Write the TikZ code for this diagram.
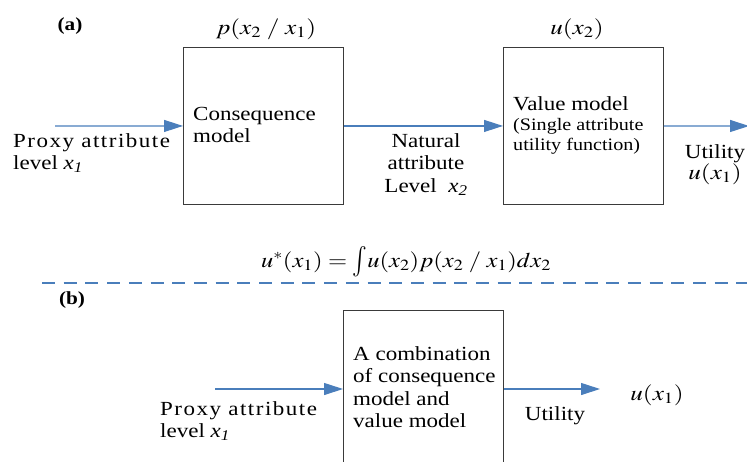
\documentclass[tikz,border=0pt]{standalone}
\usepackage{mathptmx}
\usepackage{graphicx}
\usepackage[no-math]{fontspec}
\setmainfont{Liberation Serif}[FakeStretch=1.15]
\usetikzlibrary{arrows.meta}
\definecolor{arrowblue}{HTML}{4A7EBB}
\definecolor{boxgray}{HTML}{3A3A3A}
\newcommand{\wmath}[1]{\scalebox{1.2}[1]{$#1$}}
\begin{document}
\begin{tikzpicture}[x=1pt,y=-1pt,
  box/.style={draw=boxgray,line width=0.9pt,minimum width=160pt,anchor=north west,inner sep=0pt},
  flow/.style={draw=arrowblue,line width=1.1pt,-{Triangle[length=19pt,width=12pt]}},
  txt/.style={inner sep=0pt,align=left,anchor=north west,font=\fontsize{20}{22.5}\selectfont},
  ctxt/.style={inner sep=0pt,align=center,anchor=north,font=\fontsize{20}{22.5}\selectfont},
  mth/.style={inner sep=0pt,anchor=base,font=\fontsize{21}{24}\selectfont},
  lbl/.style={inner sep=0pt,font=\fontsize{18.5}{20}\selectfont\bfseries}]
\useasboundingbox (0,0) rectangle (747,461);

% ---- part (a) ----
\node[lbl] (la) at (70,26) {(a)};
\node[box,minimum height=157pt] (cm) at (183,47) {};
\node[box,minimum height=157pt] (vm) at (503,47) {};
\node[mth] (pcond) at (266,34) {\wmath{p(x_2\;/\;x_1)}};
\node[mth] (ux2) at (577,34) {\wmath{u(x_2)}};

\node[txt] (cmt) at (193,107) {Consequence\\model};
\node[txt] (vmt) at (513,96) {Value model\\[-2pt]{\fontsize{17.5}{20}\selectfont (Single attribute}\\[-3pt]{\fontsize{17.5}{20}\selectfont utility function)}};
\node[txt] (pa) at (13,133) {{\addfontfeature{LetterSpace=7.5}Proxy attribute}\\level {\itshape x\textsubscript{1}}};
\node[ctxt] (na) at (426,133) {Natural\\attribute\\Level\ \ {\itshape x\textsubscript{2}}};
\node[ctxt] (ut) at (715,144) {Utility\\[-1pt]{\fontsize{21}{24}\selectfont\wmath{u(x_1)}}};

\coordinate (a1s) at (55,126);
\coordinate (a3e) at (749,126);
\draw[flow] (a1s) -- (cm.west);
\draw[flow] (cm.east) -- (vm.west);
\draw[flow] (vm.east) -- (a3e);

% ---- formula and divider ----
\node[mth] (formula) at (406,267) {\scalebox{1.17}[1]{$u^{*}(x_1)=\raisebox{-0.12em}{\scalebox{1}[1.45]{$\int$}}u(x_2)p(x_2\;/\;x_1)dx_2$}};
\coordinate (dl) at (42,283);
\coordinate (dr) at (747,283);
\draw[draw=arrowblue,line width=1.2pt,dash pattern=on 13pt off 8.7pt] (dl) -- (dr);

% ---- part (b) ----
\node[lbl] (lb) at (72,300) {(b)};
\node[box,minimum height=175pt] (comb) at (343,310) {};
\node[txt] (combt) at (353,346) {A combination\\of consequence\\model and\\value model};
\node[txt] (pb) at (160,401) {{\addfontfeature{LetterSpace=7.5}Proxy attribute}\\level {\itshape x\textsubscript{1}}};
\node[ctxt] (utb) at (555,406) {Utility};
\node[mth] (ux1) at (657,400) {\wmath{u(x_1)}};

\coordinate (b1s) at (215,389);
\coordinate (b2e) at (600,389);
\draw[flow] (b1s) -- (b1s -| comb.west);
\draw[flow] (comb.east |- b1s) -- (b2e);
\end{tikzpicture}
\end{document}
